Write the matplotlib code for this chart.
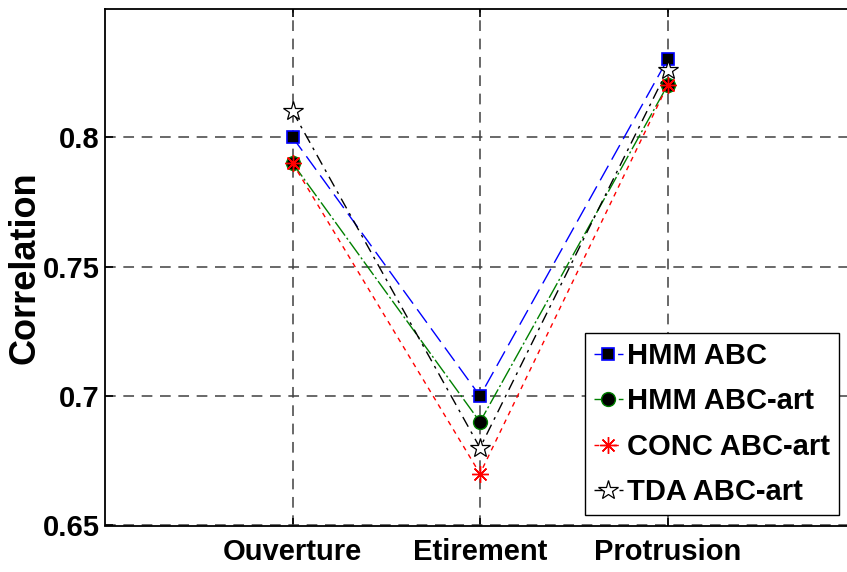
import matplotlib.pyplot as plt

plt.rcParams['font.family'] = ['Liberation Sans', 'DejaVu Sans']
plt.rcParams['font.weight'] = 'bold'

# Data
categories = ['Ouverture', 'Etirement', 'Protrusion']
hmm_abc = [0.80, 0.70, 0.83]
hmm_abc_art = [0.79, 0.69, 0.82]
conc_abc_art = [0.79, 0.67, 0.82]
tda_abc_art = [0.81, 0.68, 0.826]
yticks = [0.65, 0.7, 0.75, 0.8]
ytick_labels = ['0.65', '0.7', '0.75', '0.8']

x = [1, 2, 3]

fig = plt.figure(figsize=(8.47, 5.72), dpi=100)
# right edge of the axes falls outside the picture, as in the original
ax = fig.add_axes([105 / 847, 46.5 / 572, 750 / 847, 516.5 / 572])

ax.plot(x, hmm_abc, color='blue', lw=1, ls=(0, (12, 5)),
        marker='s', ms=9, mfc='black', mec='blue', mew=1.2,
        label='HMM ABC')
ax.plot(x, hmm_abc_art, color='green', lw=1, ls=(0, (12, 2, 1.5, 2)),
        marker='o', ms=10, mfc='black', mec='green', mew=1,
        label='HMM ABC-art')
ax.plot(x, conc_abc_art, color='red', lw=1, ls=(0, (3.5, 3.5)),
        marker=(8, 2, 0), ms=12, mec='red', mew=1,
        label='CONC ABC-art')
ax.plot(x, tda_abc_art, color='black', lw=1, ls=(0, (8, 4, 2, 4)),
        marker='*', ms=15, mfc='white', mec='black', mew=0.9,
        label='TDA ABC-art')

ax.set_xlim(0, 4)
ax.set_ylim(0.65, 0.8495)
ax.set_xticks(x)
ax.set_xticklabels(categories, fontsize=21, fontweight='bold')
ax.set_yticks(yticks)
ax.set_yticklabels(ytick_labels, fontsize=21, fontweight='bold')
ax.set_ylabel('Correlation', fontsize=26, fontweight='bold', labelpad=0)

ax.grid(True, color='#404040', ls=(0, (7, 5)), lw=1.1)
ax.tick_params(direction='in', length=6, width=1.2, top=True, right=True,
               pad=4)
ax.tick_params(axis='x', pad=9)
for s in ax.spines.values():
    s.set_linewidth(1.3)

leg = ax.legend(loc='lower right', bbox_to_anchor=(0.9787, 0.0203),
                borderaxespad=0, fontsize=21, handlelength=1.0,
                handletextpad=0.15, labelspacing=0.6, borderpad=0.3,
                fancybox=False, framealpha=1, edgecolor='black')
leg.get_frame().set_linewidth(1.0)

fig.savefig('out.png', dpi=100)
